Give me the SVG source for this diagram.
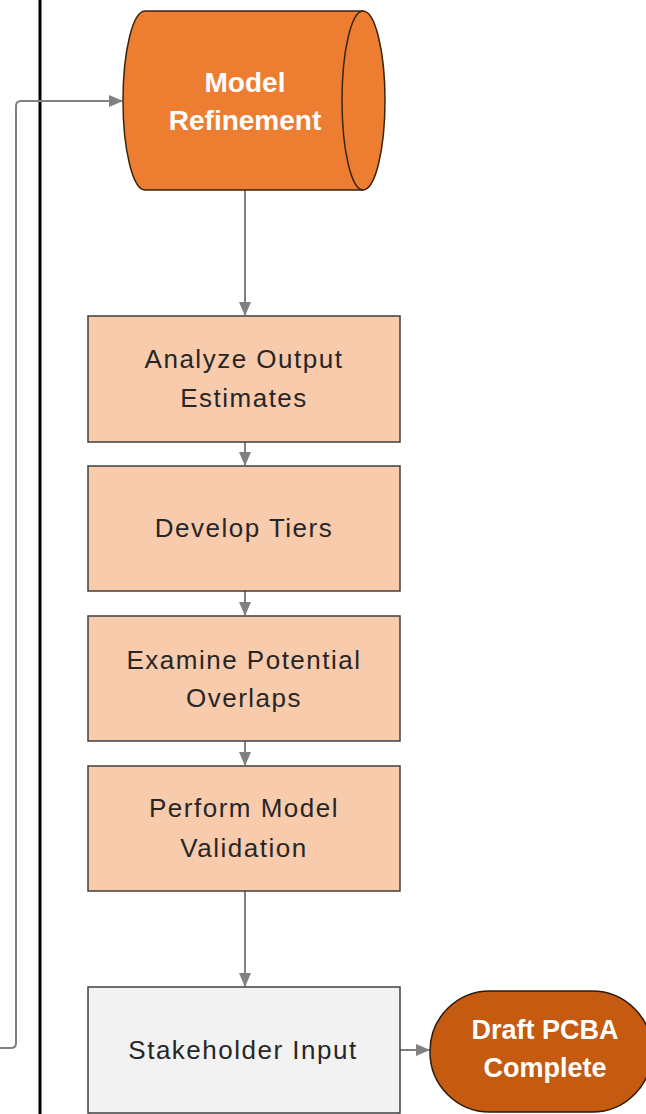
<svg xmlns="http://www.w3.org/2000/svg" width="646" height="1114" viewBox="0 0 646 1114">
<style>
.box{fill:#F8CBAD;stroke:#3F3F3F;stroke-width:1.5}
.lbl{font-family:"Liberation Sans",Arial,sans-serif;font-size:26px;fill:#262626;text-anchor:middle;letter-spacing:1.5px}
.wlbl{font-family:"Liberation Sans",Arial,sans-serif;font-size:27px;font-weight:bold;fill:#FFFFFF;text-anchor:middle}
.conn{fill:none;stroke:#808080;stroke-width:2}
</style>
<defs>
<marker id="ah2" markerWidth="14" markerHeight="14" refX="13" refY="7" orient="auto" markerUnits="userSpaceOnUse" viewBox="0 0 14 14">
<path d="M0,1 L14,7 L0,13 Z" fill="#808080"/>
</marker>
</defs>
<rect width="646" height="1114" fill="#FFFFFF"/>
<line x1="40" y1="0" x2="40" y2="1114" stroke="#000" stroke-width="3"/>
<g id="connectors">
<path class="conn" d="M0,1048 L11,1048 Q16,1048 16,1043 L16,106 Q16,101 21,101 L122,101" stroke="#A6A6A6" marker-end="url(#ah2)"/>
<path class="conn" d="M245,190 L245,315" marker-end="url(#ah2)"/>
<path class="conn" d="M245,442 L245,465" marker-end="url(#ah2)"/>
<path class="conn" d="M245,591 L245,615" marker-end="url(#ah2)"/>
<path class="conn" d="M245,741 L245,765" marker-end="url(#ah2)"/>
<path class="conn" d="M245,891 L245,986" marker-end="url(#ah2)"/>
<path class="conn" d="M400,1050 L429,1050" marker-end="url(#ah2)"/>
</g>
<g id="model-refinement">
<path d="M145,11 L363,11 A22,89.5 0 0 1 363,190 L145,190 A22,89.5 0 0 1 145,11 Z" fill="#ED7D31" stroke="#3A2410" stroke-width="1.5"/>
<path d="M363,11 A21,89.5 0 0 0 363,190" fill="none" stroke="#3A2410" stroke-width="1.5"/>
<text class="wlbl" x="245" y="92" style="font-size:28px">Model</text>
<text class="wlbl" x="245" y="130" style="font-size:28px">Refinement</text>
</g>
<g id="analyze">
<rect class="box" x="88" y="316" width="312" height="126"/>
<text class="lbl" x="244" y="368">Analyze Output</text>
<text class="lbl" x="244" y="407">Estimates</text>
</g>
<g id="develop">
<rect class="box" x="88" y="466" width="312" height="125"/>
<text class="lbl" x="244" y="537">Develop Tiers</text>
</g>
<g id="examine">
<rect class="box" x="88" y="616" width="312" height="125"/>
<text class="lbl" x="244" y="669">Examine Potential</text>
<text class="lbl" x="244" y="707">Overlaps</text>
</g>
<g id="validation">
<rect class="box" x="88" y="766" width="312" height="125"/>
<text class="lbl" x="244" y="817">Perform Model</text>
<text class="lbl" x="244" y="857">Validation</text>
</g>
<g id="stakeholder">
<rect x="88" y="987" width="312" height="126" fill="#F2F2F2" stroke="#3F3F3F" stroke-width="1.5"/>
<text class="lbl" x="243" y="1059">Stakeholder Input</text>
</g>
<g id="draft-complete">
<rect x="430" y="991" width="222" height="121" rx="60" ry="60" fill="#C55A11" stroke="#2A1A0A" stroke-width="1.5"/>
<text class="wlbl" x="545" y="1039">Draft PCBA</text>
<text class="wlbl" x="545" y="1077">Complete</text>
</g>
</svg>
